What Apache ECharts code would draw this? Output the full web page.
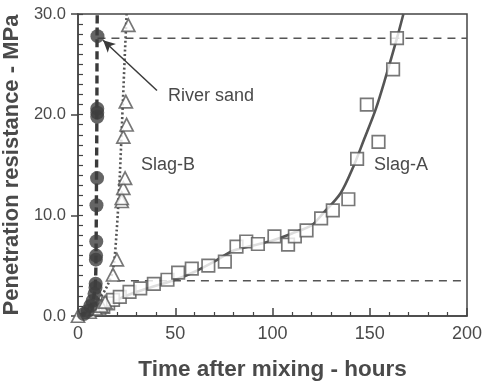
<!DOCTYPE html>
<html>
<head>
<meta charset="utf-8">
<script src="https://cdn.jsdelivr.net/npm/echarts@6/dist/echarts.min.js"></script>
<style>
  html, body { margin: 0; padding: 0; background: #fff; }
  #chart { width: 483px; height: 386px; }
</style>
</head>
<body>
<div id="chart"></div>
<script>
// Penetration resistance vs. time for three mortar mixes
const xTicks = [0, 50, 100, 150, 200];
const yTicks = [0, 10, 20, 30];

// measured points [hours, MPa]
const riverSand = [[10, 27.8], [9.9, 20.6], [9.9, 20.2], [9.9, 19.8], [9.8, 13.7], [9.5, 11.0],
  [9.4, 7.4], [9.3, 6.0], [9.2, 5.6], [9.1, 3.2], [9.0, 2.8], [8.5, 2.2], [7.5, 1.5],
  [6.3, 1.0], [5, 0.5], [3, 0.2]];
const slagB = [[0, 0], [6, 0.4], [9, 0.7], [12, 1.0], [14, 1.4], [18, 4.1], [20, 5.6],
  [22.5, 11.4], [22.5, 11.7], [23.3, 12.7], [24.2, 13.7], [23.3, 17.8], [25, 19.0],
  [24.6, 21.3], [25.9, 28.9]];
const slagA = [[11, 0.7], [13, 0.9], [15.5, 1.25], [18, 1.6], [21.5, 1.9], [26.5, 2.4],
  [32, 2.75], [39, 3.2], [46, 3.6], [51.5, 4.3], [58.5, 4.7], [67, 5.0], [75.5, 5.4],
  [81.5, 6.9], [86.5, 7.4], [92.5, 7.15], [101, 7.9], [108, 7.1], [111.5, 7.9],
  [117.5, 8.5], [125, 9.7], [131, 10.5], [139, 11.6], [143.5, 15.6], [148.5, 21.0],
  [154.5, 17.3], [162, 24.5], [164, 27.6]];

// fitted curves [hours, MPa]
const riverSandFit = [[0, 0], [5, 0.5], [8, 1.8], [9, 3.5], [9.3, 7], [9.5, 13], [9.7, 20],
  [9.8, 27.8], [9.9, 30]];
const slagBFit = [[0, 0], [5, 0.4], [9.6, 1.3], [14.8, 2.9], [18, 4.6], [19.9, 8.5],
  [21.5, 14], [23.1, 21.4], [24.2, 26.5], [25, 30]];
const slagAFit = [[0, 0], [10, 0.7], [20, 1.6], [30, 2.4], [40, 3.0], [50, 3.6], [60, 4.4],
  [70, 5.4], [80, 6.5], [90, 7.0], [100, 7.5], [110, 8.2], [120, 9.0], [126, 10.2],
  [135, 12.2], [141.5, 14.8], [147, 17.5], [153, 20.5], [158, 23.6], [164, 27.6],
  [167.3, 30]];

// setting-time thresholds: initial 3.5 MPa, final 27.6 MPa
const initialSet = [[20, 3.5], [200, 3.5]];
const finalSet = [[10, 27.6], [200, 27.6]];

// arrow from the "River sand" caption to its final-set point
const arrowFrom = [40.6, 22.4];
const arrowTo = [12.9, 27.4];

const txt = '#4a4a4a';
const ink = '#444';
const font = '"Liberation Sans", Arial, sans-serif';

const chart = echarts.init(document.getElementById('chart'));
chart.setOption({
  animation: false,
  backgroundColor: '#fff',
  grid: { left: 78, right: 16, top: 14, bottom: 70, containLabel: false, outerBoundsMode: 'none',
    show: true, borderColor: ink, borderWidth: 1.5 },
  xAxis: {
    type: 'value', min: xTicks[0], max: xTicks[xTicks.length - 1], interval: 50,
    name: 'Time after mixing - hours', nameLocation: 'middle', nameGap: 42,
    nameTextStyle: { fontFamily: font, fontSize: 22.5, fontWeight: 'bold', color: txt },
    axisLine: { lineStyle: { color: ink, width: 1.5 } },
    axisTick: { inside: true, length: 8, lineStyle: { color: ink, width: 1.5 } },
    minorTick: { show: true, splitNumber: 5, length: 4, lineStyle: { color: ink, width: 1.2 } },
    splitLine: { show: false },
    axisLabel: { fontFamily: font, fontSize: 18, color: txt, margin: 9 }
  },
  yAxis: [{
    type: 'value', min: yTicks[0], max: yTicks[yTicks.length - 1], interval: 10,
    name: 'Penetration resistance - MPa', nameLocation: 'middle', nameGap: 45,
    nameTextStyle: { fontFamily: font, fontSize: 22, fontWeight: 'bold', color: txt },
    axisLine: { lineStyle: { color: ink, width: 1.5 } },
    axisTick: { inside: false, length: 7, lineStyle: { color: ink, width: 1.5 } },
    splitLine: { show: false },
    axisLabel: { fontFamily: font, fontSize: 16.5, color: txt, margin: 12, formatter: v => v.toFixed(1) }
  }, {
    type: 'value', min: yTicks[0], max: yTicks[yTicks.length - 1], interval: 1,
    position: 'left', offset: 0,
    axisLine: { show: false },
    axisTick: { show: true, inside: true, length: 5, lineStyle: { color: ink, width: 1.2 } },
    axisLabel: { show: false },
    splitLine: { show: false }
  }],
  series: [
    { type: 'line', data: finalSet, symbol: 'none', silent: true,
      lineStyle: { color: '#555', width: 1.5, type: [8, 6] }, z: 1 },
    { type: 'line', data: initialSet, symbol: 'none', silent: true,
      lineStyle: { color: '#555', width: 1.5, type: [8, 6] }, z: 1 },
    { type: 'line', data: slagAFit, symbol: 'none', smooth: 0.3,
      lineStyle: { color: '#555', width: 2.6 }, z: 2 },
    { type: 'line', data: slagBFit, symbol: 'none', smooth: 0.3,
      lineStyle: { color: '#555', width: 2.6, type: [2, 2.5] }, z: 2 },
    { type: 'line', data: riverSandFit, symbol: 'none', smooth: 0.3,
      lineStyle: { color: '#3a3a3a', width: 3.4, type: [8, 4] }, z: 2,
      markLine: {
        silent: true, symbol: ['none', 'arrow'], symbolSize: [9, 12],
        label: { show: false },
        lineStyle: { color: '#3a3a3a', width: 1.5, type: 'solid' },
        data: [[{ coord: arrowFrom }, { coord: arrowTo }]]
      } },
    { type: 'scatter', data: slagA, symbol: 'rect', symbolSize: 12.5,
      itemStyle: { color: '#fff', borderColor: '#555', borderWidth: 1.7 }, z: 5 },
    { type: 'scatter', data: slagB, symbol: 'triangle', symbolSize: [13, 12.5],
      itemStyle: { color: '#fff', borderColor: '#555', borderWidth: 1.7 }, z: 5 },
    { type: 'scatter', data: riverSand, symbol: 'circle', symbolSize: 14,
      itemStyle: { color: '#3f3f3f' }, z: 6 }
  ],
  graphic: [
    { type: 'text', left: 168, top: 87, style: { text: 'River sand', fontFamily: font, fontSize: 18, fill: txt } },
    { type: 'text', left: 141, top: 156, style: { text: 'Slag-B', fontFamily: font, fontSize: 18, fill: txt } },
    { type: 'text', left: 374, top: 156, style: { text: 'Slag-A', fontFamily: font, fontSize: 18, fill: txt } }
  ]
});
</script>
</body>
</html>
